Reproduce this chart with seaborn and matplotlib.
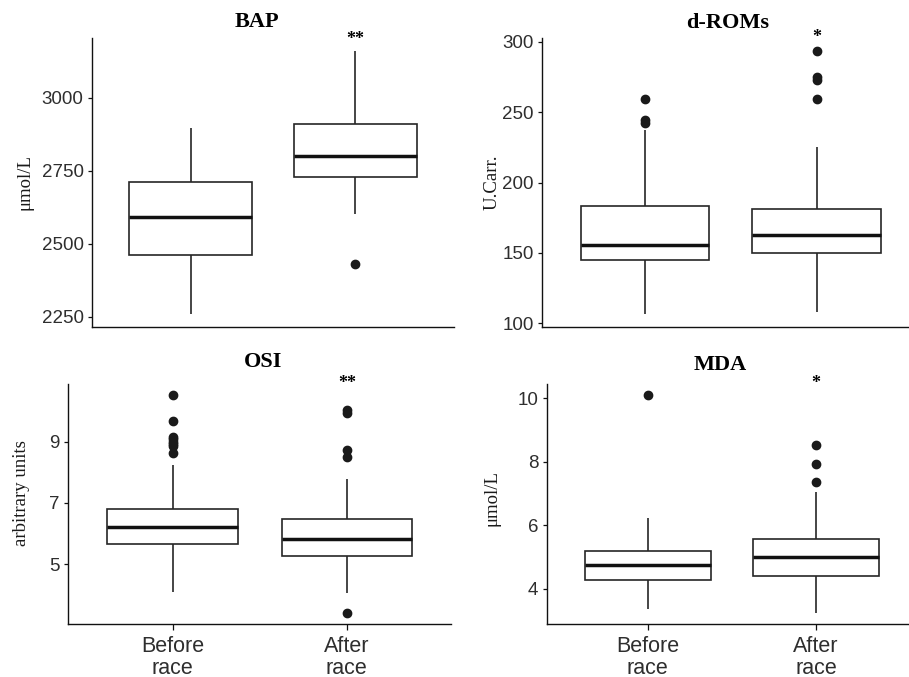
import numpy as np
import pandas as pd
import matplotlib
matplotlib.use("Agg")
import matplotlib.pyplot as plt
import matplotlib.transforms as mtransforms
import seaborn as sns

# ---------------- data ----------------
groups = ["Before\nrace", "After\nrace"]
panels = ["BAP", "d-ROMs", "OSI", "MDA"]
ylabels = ["μmol/L", "U.Carr.", "arbitrary units", "μmol/L"]
stars = ["**", "*", "**", "*"]

# [lower whisker, Q1, median, Q3, upper whisker]
bap_before = [2260, 2460, 2590, 2710, 2895]
bap_after = [2600, 2730, 2800, 2910, 3160]
bap_out_before = []
bap_out_after = [2430]

droms_before = [107, 145, 156, 183, 237]
droms_after = [108, 150, 163, 181, 225]
droms_out_before = [242, 244, 259]
droms_out_after = [259, 273, 275, 293]

osi_before = [4.09, 5.66, 6.20, 6.80, 8.24]
osi_after = [4.06, 5.26, 5.83, 6.47, 7.77]
osi_out_before = [8.62, 8.85, 8.92, 9.00, 9.08, 9.15, 9.68, 10.52]
osi_out_after = [3.40, 8.49, 8.73, 9.95, 10.03]

mda_before = [3.36, 4.26, 4.74, 5.20, 6.23]
mda_after = [3.23, 4.41, 4.99, 5.57, 7.05]
mda_out_before = [10.09]
mda_out_after = [7.36, 7.92, 8.52]

yticks = [[2250, 2500, 2750, 3000], [100, 150, 200, 250, 300], [5, 7, 9], [4, 6, 8, 10]]

summaries = [
    (bap_before, bap_out_before, bap_after, bap_out_after),
    (droms_before, droms_out_before, droms_after, droms_out_after),
    (osi_before, osi_out_before, osi_after, osi_out_after),
    (mda_before, mda_out_before, mda_after, mda_out_after),
]


def sample_from_summary(stats, outliers, k=20):
    """Build a sample whose boxplot statistics equal the read summary."""
    lo, q1, med, q3, hi = stats
    lows = [lo] + [v for v in outliers if v < q1]
    highs = [hi] + [v for v in outliers if v > q3]
    p = max(len(lows), len(highs))
    lows += [lo] * (p - len(lows))
    highs += [hi] * (p - len(highs))
    return lows + [q1] * k + [med] * k + [q3] * k + highs


# ---------------- layout (pixel boxes in a 909x677 figure) ----------------
W, H = 909, 677
boxes = [  # left, top, right, bottom (pixels)
    (92, 37.7, 454, 327),
    (542, 38.3, 919.7, 326.7),
    (68.3, 384.3, 451.3, 624),
    (546.7, 384.3, 917, 624),
]
title_px = [(257, 22), (727.7, 23.3), (263, 361.7), (720, 364.7)]
ylabel_px = [(25, 182.5), (491.7, 182.5), (21.7, 493), (491.7, 498)]
star_py = [39, 37, 383, 383]

SERIF = ["Liberation Serif", "DejaVu Serif"]
SANS = ["Liberation Sans", "DejaVu Sans"]
plt.rcParams["font.family"] = SANS
INK = "#262626"

fig = plt.figure(figsize=(W / 100, H / 100), dpi=100)

for i in range(4):
    l, t, r, b = boxes[i]
    ax = fig.add_axes([l / W, 1 - b / H, (r - l) / W, (b - t) / H])
    sb, ob, sa, oa = summaries[i]
    vals_b = sample_from_summary(sb, ob)
    vals_a = sample_from_summary(sa, oa)
    df = pd.DataFrame({
        "group": [groups[0]] * len(vals_b) + [groups[1]] * len(vals_a),
        "value": vals_b + vals_a,
    })
    sns.boxplot(
        data=df, x="group", y="value", order=groups, ax=ax,
        width=0.75, color="white", linecolor=INK, linewidth=1.2,
        fliersize=6, showcaps=False,
        medianprops=dict(linewidth=2.5, color="#111111"),
        flierprops=dict(marker="o", markerfacecolor="#1a1a1a",
                        markeredgecolor="#1a1a1a"),
    )
    # ggplot-like 5% expansion of the continuous axis
    allv = np.array(vals_b + vals_a)
    span = allv.max() - allv.min()
    ax.set_ylim(allv.min() - 0.05 * span, allv.max() + 0.05 * span)
    ax.set_xlim(-0.6, 1.6)
    ax.set_yticks(yticks[i])
    ax.set_xlabel("")
    ax.set_ylabel("")
    for s in ["top", "right"]:
        ax.spines[s].set_visible(False)
    for s in ["left", "bottom"]:
        ax.spines[s].set_linewidth(1.0)
        ax.spines[s].set_color("#111111")
    ax.tick_params(axis="y", length=3, width=0.9, color="#111111", pad=3,
                   labelsize=13.5, labelcolor="#2e2e2e")
    if i < 2:
        ax.tick_params(axis="x", length=0, labelbottom=False)
    else:
        ax.tick_params(axis="x", length=4, width=0.9, color="#111111", pad=5,
                       labelsize=15.5, labelcolor="#2e2e2e")
        for lab in ax.get_xticklabels():
            lab.set_linespacing(1.0)

    axw, axh = r - l, b - t
    tx, ty = title_px[i]
    ax.set_title(panels[i], x=(tx - l) / axw, y=(b - ty) / axh, pad=0,
                 va="center", fontsize=16, fontweight="bold", family=SERIF)
    lx, ly = ylabel_px[i]
    ax.set_ylabel(ylabels[i], fontsize=13.5, family=SERIF, color="#1a1a1a")
    ax.yaxis.label.set(ha="center", va="center", rotation_mode="anchor")
    ax.yaxis.set_label_coords((lx - l) / axw, (b - ly) / axh)
    trans = mtransforms.blended_transform_factory(ax.transData, ax.transAxes)
    ax.text(1, (b - star_py[i]) / axh, stars[i], transform=trans, ha="center",
            va="center", fontsize=13, fontweight="bold", family=SERIF,
            clip_on=False)

fig.savefig("out.png", dpi=100, facecolor="white")
